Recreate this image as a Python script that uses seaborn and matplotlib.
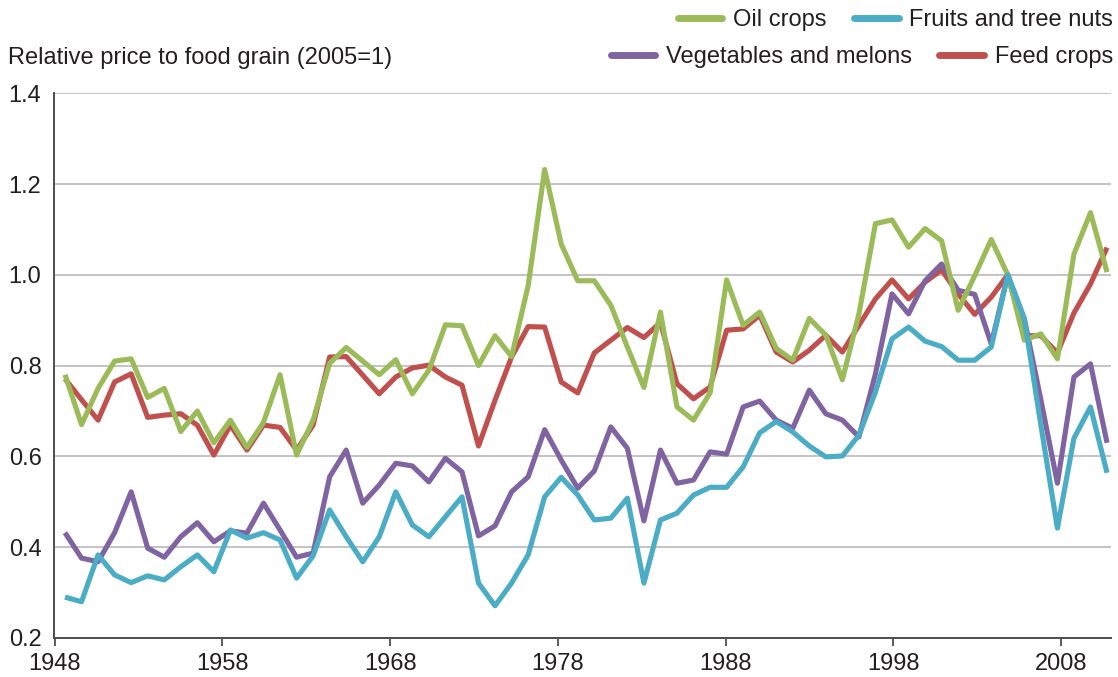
import numpy as np
import pandas as pd
import matplotlib
matplotlib.use("Agg")
import matplotlib.pyplot as plt
import seaborn as sns

# ---------------- data ----------------
years = list(range(1948, 2012))

oil_crops = [0.780, 0.670, 0.750, 0.810, 0.815, 0.730, 0.750, 0.655, 0.700, 0.630,
             0.680, 0.620, 0.675, 0.780, 0.603, 0.680, 0.805, 0.840, 0.810, 0.780,
             0.813, 0.738, 0.790, 0.890, 0.888, 0.800, 0.866, 0.820, 0.976, 1.232,
             1.068, 0.987, 0.987, 0.933, 0.841, 0.752, 0.918, 0.709, 0.680, 0.740,
             0.989, 0.889, 0.918, 0.838, 0.812, 0.904, 0.867, 0.769, 0.914, 1.113,
             1.121, 1.061, 1.102, 1.075, 0.922, 0.998, 1.078, 1.000, 0.856, 0.870,
             0.815, 1.046, 1.137, 1.006]

fruits_tree_nuts = [0.290, 0.280, 0.383, 0.339, 0.322, 0.337, 0.328, 0.357, 0.383, 0.346,
                    0.438, 0.420, 0.432, 0.416, 0.332, 0.381, 0.482, 0.423, 0.368, 0.423,
                    0.522, 0.449, 0.423, 0.467, 0.511, 0.321, 0.271, 0.321, 0.383, 0.511,
                    0.554, 0.515, 0.460, 0.464, 0.508, 0.321, 0.460, 0.475, 0.515, 0.532,
                    0.532, 0.577, 0.652, 0.677, 0.654, 0.623, 0.599, 0.601, 0.647, 0.742,
                    0.859, 0.885, 0.854, 0.842, 0.812, 0.812, 0.841, 1.000, 0.903, 0.669,
                    0.442, 0.640, 0.709, 0.564]

vegetables_melons = [0.432, 0.376, 0.368, 0.432, 0.522, 0.398, 0.378, 0.423, 0.454, 0.412,
                     0.436, 0.431, 0.497, 0.438, 0.378, 0.387, 0.555, 0.614, 0.497, 0.537,
                     0.585, 0.579, 0.544, 0.596, 0.566, 0.425, 0.447, 0.522, 0.555, 0.659,
                     0.592, 0.530, 0.568, 0.665, 0.618, 0.458, 0.614, 0.541, 0.548, 0.610,
                     0.605, 0.709, 0.722, 0.680, 0.662, 0.746, 0.694, 0.680, 0.643, 0.782,
                     0.958, 0.914, 0.987, 1.024, 0.966, 0.957, 0.848, 1.000, 0.903, 0.725,
                     0.541, 0.775, 0.804, 0.630]

feed_crops = [0.771, 0.725, 0.680, 0.764, 0.782, 0.686, 0.691, 0.694, 0.669, 0.603,
              0.669, 0.614, 0.669, 0.664, 0.614, 0.669, 0.819, 0.820, 0.779, 0.738,
              0.775, 0.795, 0.801, 0.775, 0.757, 0.623, 0.724, 0.819, 0.886, 0.885,
              0.764, 0.740, 0.828, 0.856, 0.884, 0.862, 0.895, 0.760, 0.727, 0.753,
              0.878, 0.881, 0.911, 0.830, 0.808, 0.834, 0.867, 0.830, 0.889, 0.947,
              0.989, 0.947, 0.984, 1.011, 0.958, 0.913, 0.951, 1.000, 0.866, 0.866,
              0.828, 0.916, 0.980, 1.060]

series_names = ["Feed crops", "Vegetables and melons", "Oil crops", "Fruits and tree nuts"]
series_colors = ["#C0504D", "#8064A2", "#9BBB59", "#4BACC6"]
x_tick_labels = [1948, 1958, 1968, 1978, 1988, 1998, 2008]
y_ticks = [0.2, 0.4, 0.6, 0.8, 1.0, 1.2, 1.4]
y_title = "Relative price to food grain (2005=1)"

df = pd.concat([
    pd.DataFrame({"year": years, "value": feed_crops, "series": "Feed crops"}),
    pd.DataFrame({"year": years, "value": vegetables_melons, "series": "Vegetables and melons"}),
    pd.DataFrame({"year": years, "value": oil_crops, "series": "Oil crops"}),
    pd.DataFrame({"year": years, "value": fruits_tree_nuts, "series": "Fruits and tree nuts"}),
])

# ---------------- style ----------------
sns.set_theme(style="white")
plt.rcParams["font.family"] = ["Liberation Sans", "DejaVu Sans"]
text_color = "#231F20"
FS = 17

fig = plt.figure(figsize=(11.18, 6.77), dpi=100)
ax = fig.add_axes([54 / 1118, 1 - 638 / 677, 1057 / 1118, (638 - 93.3) / 677])

palette = dict(zip(series_names, series_colors))
sns.lineplot(data=df, x="year", y="value", hue="series", hue_order=series_names,
             palette=palette, linewidth=3.7, ax=ax, legend=False, sort=False)
for ln in ax.get_lines():
    ln.set_solid_joinstyle("round")
    ln.set_solid_capstyle("butt")

ax.set_ylim(0.2, 1.4)
ax.set_xlim(1947.335, 2011.24)
ax.set_yticks(y_ticks)
ax.set_yticklabels([f"{v:.1f}" for v in y_ticks])
tick_pos = [1947.37 + (t - 1948) * 1.0142 for t in x_tick_labels]
ax.set_xticks(tick_pos)
ax.set_xticklabels([str(t) for t in x_tick_labels])

ax.grid(axis="y", color="#BEBEBE", linewidth=1.3)
ax.grid(axis="x", visible=False)
ax.set_axisbelow(True)
for s in ["top", "right"]:
    ax.spines[s].set_visible(False)
for s in ["left", "bottom"]:
    ax.spines[s].set_color("#4D4D4D")
    ax.spines[s].set_linewidth(1.4)

ax.tick_params(axis="x", direction="out", length=6, width=1.3, color="#4D4D4D",
               labelsize=FS, labelcolor=text_color, pad=5, bottom=True)
ax.tick_params(axis="y", length=0, labelsize=FS, labelcolor=text_color, pad=9, left=True)
ax.set_xlabel("")
ax.set_ylabel("")

fig.text(8 / 1118, 1 - 58 / 677, y_title, fontsize=FS, color=text_color,
         ha="left", va="center")

# ---------------- legends ----------------
handles = {}
for name, col in zip(series_names, series_colors):
    handles[name] = plt.Line2D([], [], color=col, linewidth=5, solid_capstyle="round")

row1 = ["Oil crops", "Fruits and tree nuts"]
row2 = ["Vegetables and melons", "Feed crops"]
common = dict(loc="center right", frameon=False, ncol=2, fontsize=FS,
              handlelength=1.9, handletextpad=0.45, columnspacing=1.15,
              borderaxespad=0, borderpad=0, labelcolor=text_color)
leg1 = fig.legend([handles[n] for n in row1], row1,
                  bbox_to_anchor=(1113 / 1118, 1 - 20 / 677), **common)
leg2 = fig.legend([handles[n] for n in row2], row2,
                  bbox_to_anchor=(1113 / 1118, 1 - 57 / 677), **common)

fig.savefig("out.png", dpi=100)
